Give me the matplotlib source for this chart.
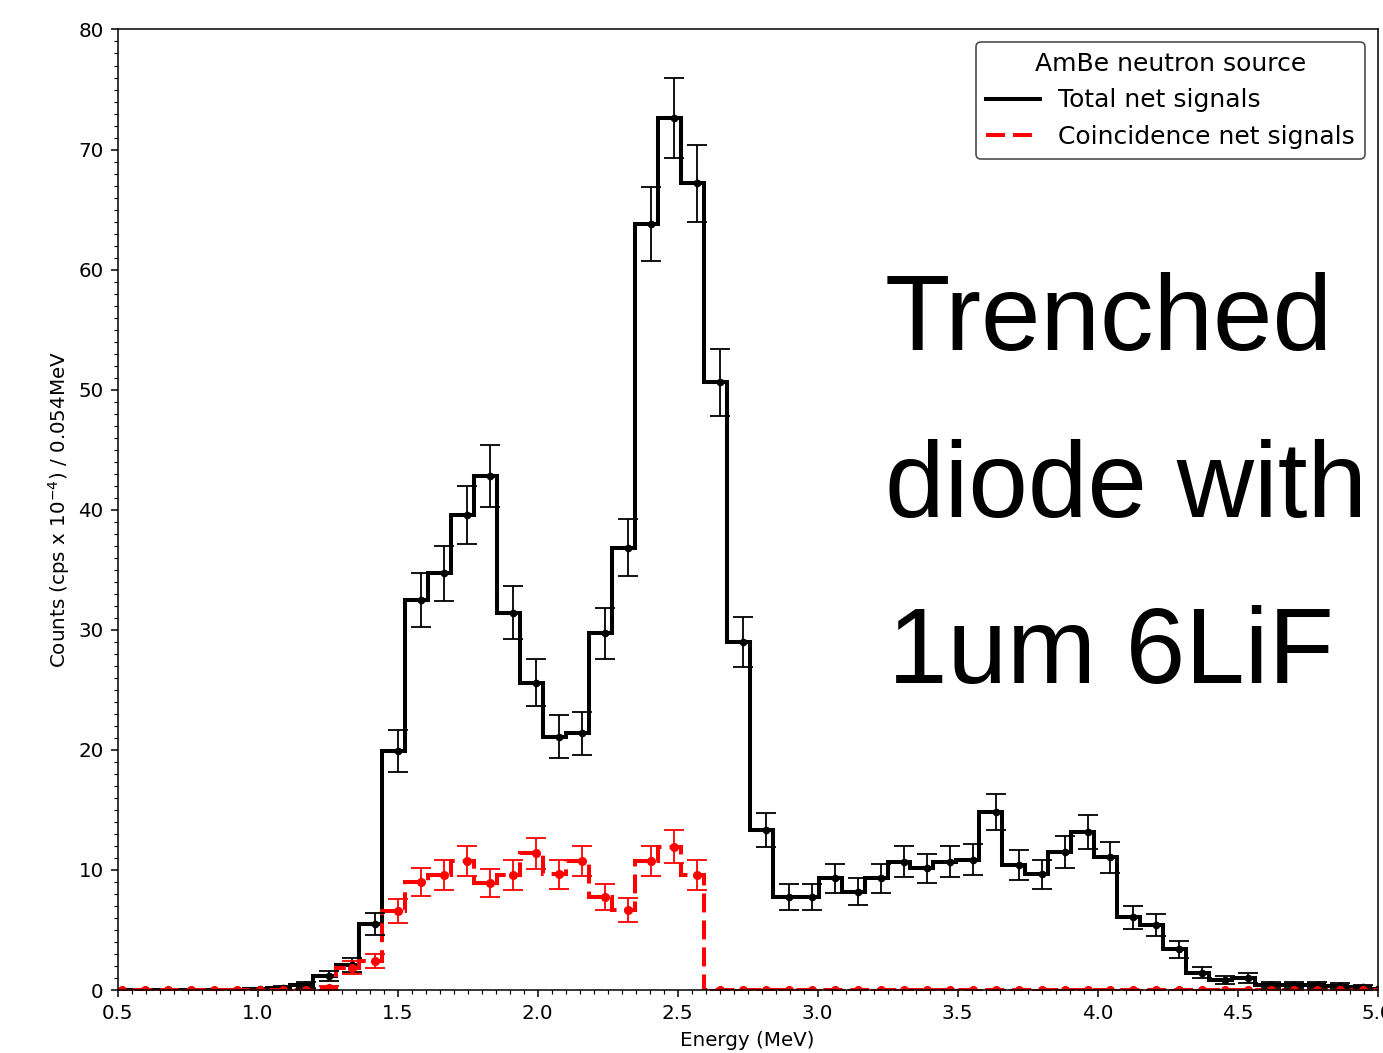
import numpy as np
import matplotlib
matplotlib.use("Agg")
import matplotlib.pyplot as plt
from matplotlib.lines import Line2D
from matplotlib.ticker import MultipleLocator

# Binning of the energy spectrum (MeV)
bin_lo = 0.4578
bin_w = 0.0821
n_bins = 56

# Net count rate per bin, total signal
total_net = [0, 0, 0, 0, 0, 0, 0.05, 0.15, 0.4, 1.17, 2.08, 5.5,
             19.93, 32.48, 34.7, 39.56, 42.81, 31.43, 25.6, 21.1, 21.38, 29.71,
             36.84, 63.8, 72.6, 67.2, 50.6, 29.0, 13.33, 7.77, 7.77, 9.3,
             8.19, 9.3, 10.69, 10.13, 10.69, 10.87, 14.85, 10.41, 9.66, 11.52,
             13.19, 11.05, 6.05, 5.45, 3.39, 1.45, 0.85, 1.0, 0.42, 0.42,
             0.4, 0.35, 0.25, 0.1]
total_err = [0, 0, 0, 0, 0, 0, 0.09, 0.15, 0.25, 0.42, 0.56, 0.91,
             1.74, 2.22, 2.3, 2.45, 2.55, 2.19, 1.97, 1.79, 1.8, 2.13,
             2.37, 3.12, 3.32, 3.2, 2.77, 2.1, 1.42, 1.09, 1.09, 1.19,
             1.12, 1.19, 1.28, 1.24, 1.28, 1.29, 1.5, 1.26, 1.21, 1.32,
             1.42, 1.3, 0.96, 0.91, 0.72, 0.47, 0.36, 0.39, 0.25, 0.25,
             0.25, 0.23, 0.2, 0.12]

# Net count rate per bin, coincidence signal
coinc_net = [0, 0, 0, 0, 0, 0, 0, 0, 0, 0.15, 1.85, 2.4,
             6.58, 8.97, 9.58, 10.74, 8.94, 9.58, 11.38, 9.66, 10.74, 7.77,
             6.66, 10.74, 11.94, 9.58] + [0] * 30
coinc_err = [0, 0, 0, 0, 0, 0, 0, 0, 0, 0.15, 0.53, 0.6,
             1.0, 1.17, 1.21, 1.28, 1.17, 1.21, 1.32, 1.21, 1.28, 1.09,
             1.01, 1.28, 1.35, 1.21] + [0] * 30

edges = bin_lo + bin_w * np.arange(n_bins + 1)
x_err = edges[:-1] + 0.7 * bin_w

dash = (0, (4.7, 2))

fig = plt.figure(figsize=(13.83, 10.53), dpi=100)
ax = fig.add_axes([0.0851, 0.0598, 0.9111, 0.9122])

ax.stairs(total_net, edges, color="black", linewidth=2.9, baseline=None)
ax.errorbar(x_err, total_net, yerr=total_err, fmt="o", ms=4.5, color="black",
            elinewidth=1.3, capsize=7, capthick=1.3)

ax.stairs(coinc_net, edges, color="red", linewidth=2.9, baseline=None,
          linestyle=dash)
ax.errorbar(x_err, coinc_net, yerr=coinc_err, fmt="o", ms=5.5, color="red",
            elinewidth=1.3, capsize=7, capthick=1.3)

ax.set_xlim(0.5, 5.0)
ax.set_ylim(0, 80)
ax.xaxis.set_major_locator(MultipleLocator(0.5))
ax.xaxis.set_minor_locator(MultipleLocator(0.05))
ax.yaxis.set_major_locator(MultipleLocator(10))
ax.yaxis.set_minor_locator(MultipleLocator(1))
ax.tick_params(which="major", length=5, width=1.1, labelsize=14.3, pad=5)
ax.tick_params(which="minor", length=2.9, width=0.85)
for sp in ax.spines.values():
    sp.set_linewidth(1.1)

ax.set_xlabel("Energy (MeV)", fontsize=14.3, labelpad=6)
ax.set_ylabel("Counts (cps x 10$^{-4}$) / 0.054MeV", fontsize=14.3, labelpad=4.5)

handles = [
    Line2D([0], [0], color="black", lw=2.9),
    Line2D([0], [0], color="red", lw=2.9, linestyle=dash),
]
leg = ax.legend(handles, ["Total net signals", "Coincidence net signals"],
                title="AmBe neutron source", loc="upper right", fontsize=18,
                title_fontsize=18, framealpha=1, edgecolor="0.3",
                labelspacing=0.5, handlelength=2.15, handletextpad=0.75)
leg.get_frame().set_linewidth(1.2)

big = dict(fontsize=77, family="Liberation Sans", color="black", va="baseline")
fig.text(0.640, 0.6676, "Trenched", **big)
fig.text(0.640, 0.5093, "diode with", **big)
fig.text(0.642, 0.351, "1um 6LiF", **big)

fig.savefig("out.png", dpi=100)
